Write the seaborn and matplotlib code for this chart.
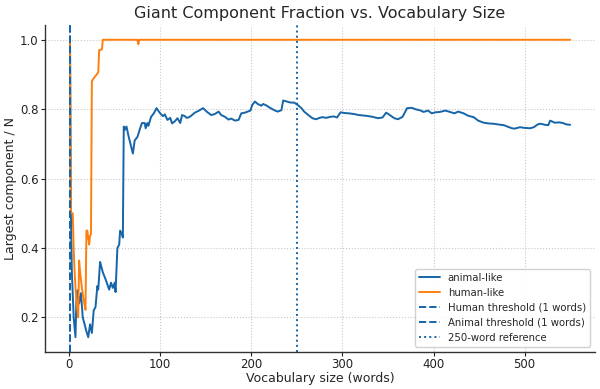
import matplotlib
matplotlib.use("Agg")
import matplotlib.pyplot as plt
import pandas as pd
import seaborn as sns

# values
animal_x = [1, 2, 3, 5, 7, 8, 9, 11, 13, 15, 17, 19, 21, 23, 25, 27, 29, 31, 32, 34,
            37, 40, 44, 46, 48, 50, 51, 53, 55, 56, 58, 59, 60, 61, 63, 65, 70, 72, 75, 78,
            80, 83, 84, 86, 87, 90, 93, 96, 98, 100, 103, 105, 108, 111, 113, 116, 119, 122, 124, 127,
            129, 131, 134, 138, 142, 147, 151, 156, 160, 164, 167, 171, 175, 178, 182, 186, 189, 193, 196, 199,
            201, 204, 207, 211, 213, 217, 221, 226, 229, 233, 235, 239, 243, 247, 251, 255, 258, 264, 267, 271,
            275, 278, 282, 287, 291, 294, 298, 302, 307, 313, 318, 326, 333, 339, 344, 348, 353, 357, 361, 366,
            371, 376, 380, 386, 389, 394, 398, 402, 407, 413, 418, 423, 427, 433, 438, 444, 449, 455, 460, 466,
            471, 477, 482, 486, 489, 495, 500, 506, 510, 515, 518, 522, 526, 528, 533, 538, 542, 546, 550]
animal_y = [1.0, 0.5, 0.333, 0.2, 0.143, 0.25, 0.278, 0.24, 0.27, 0.2, 0.18, 0.16, 0.143, 0.18, 0.155, 0.22, 0.23, 0.29, 0.28, 0.36,
            0.33, 0.31, 0.28, 0.30, 0.285, 0.30, 0.273, 0.40, 0.41, 0.45, 0.44, 0.43, 0.75, 0.74, 0.75, 0.725, 0.672, 0.71, 0.72, 0.745,
            0.76, 0.76, 0.745, 0.76, 0.752, 0.778, 0.788, 0.803, 0.795, 0.788, 0.78, 0.785, 0.769, 0.775, 0.759, 0.765, 0.774, 0.76, 0.783, 0.78,
            0.775, 0.776, 0.781, 0.79, 0.795, 0.803, 0.793, 0.783, 0.786, 0.793, 0.783, 0.778, 0.77, 0.773, 0.767, 0.769, 0.788, 0.79, 0.793, 0.796,
            0.812, 0.822, 0.815, 0.81, 0.815, 0.81, 0.803, 0.796, 0.793, 0.797, 0.825, 0.822, 0.819, 0.819, 0.812, 0.803, 0.793, 0.78, 0.774, 0.771,
            0.775, 0.777, 0.775, 0.778, 0.779, 0.776, 0.791, 0.789, 0.788, 0.786, 0.783, 0.781, 0.778, 0.774, 0.776, 0.79, 0.781, 0.774, 0.771, 0.778,
            0.803, 0.804, 0.8, 0.796, 0.792, 0.796, 0.788, 0.791, 0.792, 0.796, 0.792, 0.788, 0.793, 0.788, 0.781, 0.777, 0.767, 0.761, 0.759, 0.758,
            0.756, 0.754, 0.749, 0.745, 0.744, 0.748, 0.746, 0.745, 0.748, 0.757, 0.758, 0.755, 0.754, 0.767, 0.761, 0.762, 0.76, 0.756, 0.755]

human_x = [1, 2, 4, 5, 6, 7, 8, 9, 10, 11, 12, 14, 16, 18, 19, 20, 21, 22, 23, 24,
           25, 27, 32, 33, 36, 37, 75, 76, 77, 550]
human_y = [1.0, 0.5, 0.5, 0.4, 0.333, 0.286, 0.25, 0.222, 0.2, 0.364, 0.333, 0.286, 0.25, 0.222, 0.45, 0.45, 0.43, 0.41, 0.435, 0.44,
           0.88, 0.889, 0.906, 0.97, 0.972, 1.0, 1.0, 0.987, 1.0, 1.0]

human_threshold = 1
animal_threshold = 1
reference_size = 250

blue = "#1565a8"
orange = "#ff7f0e"

sns.set_theme(style="ticks")
plt.rcParams["font.family"] = ["DejaVu Sans"]

fig = plt.figure(figsize=(6, 3.89), dpi=100)
ax = fig.add_axes([0.075, 0.095, 0.917, 0.841])

df_a = pd.DataFrame({"x": animal_x, "y": animal_y})
df_h = pd.DataFrame({"x": human_x, "y": human_y})
sns.lineplot(data=df_a, x="x", y="y", ax=ax, color=blue, linewidth=1.4, label="animal-like")
sns.lineplot(data=df_h, x="x", y="y", ax=ax, color=orange, linewidth=1.4, label="human-like")

ax.axvline(human_threshold, color=blue, linestyle="--", linewidth=1.4,
           label=f"Human threshold ({human_threshold} words)")
ax.axvline(animal_threshold, color=blue, linestyle="--", linewidth=1.4,
           label=f"Animal threshold ({animal_threshold} words)")
ax.axvline(reference_size, color=blue, linestyle=":", linewidth=1.4,
           label=f"{reference_size}-word reference")

ax.set_title("Giant Component Fraction vs. Vocabulary Size", fontsize=11.5, pad=5)
ax.set_xlabel("Vocabulary size (words)", fontsize=9, labelpad=0.5)
ax.set_ylabel("Largest component / N", fontsize=9, labelpad=2)
ax.tick_params(labelsize=8.5, length=3, width=0.8, pad=1.5, colors="#222222")
ax.grid(True, linestyle=":", color="#c8c8c8", linewidth=0.8)
ax.set_xticks([0, 100, 200, 300, 400, 500])
ax.set_yticks([0.2, 0.4, 0.6, 0.8, 1.0])
sns.despine(ax=ax)
for s in ["left", "bottom"]:
    ax.spines[s].set_color("#333333")
    ax.spines[s].set_linewidth(1.0)

ax.legend(loc="lower right", fontsize=7.3, frameon=True, framealpha=0.9, edgecolor="#cccccc")

fig.savefig("out.png", dpi=100)
